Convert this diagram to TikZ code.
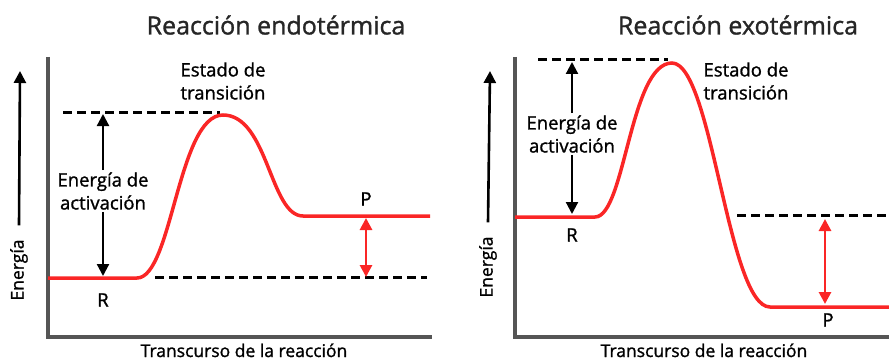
\documentclass[tikz,border=0pt]{standalone}
\usepackage{fontspec}
\setmainfont{Open Sans}[UprightFeatures={FakeBold=1.2}]
\usetikzlibrary{arrows.meta, positioning}
\definecolor{curvered}{RGB}{250,38,38}
\definecolor{axisgray}{RGB}{85,85,85}

\begin{document}
\begin{tikzpicture}[x=1pt, y=-1pt,
      axis/.style={line width=3.5pt, draw=axisgray},
      profile/.style={line width=3.5pt, draw=curvered},
      dashline/.style={line width=3pt, dash pattern=on 9pt off 5pt},
      blackarrow/.style={line width=2.2pt, -{Triangle[width=12pt,length=12pt]}},
      redarrow/.style={line width=2.8pt, draw=curvered, {Triangle[width=12pt,length=12pt]}-{Triangle[width=12pt,length=12pt]}},
      title/.style={font=\fontsize{25}{29}\selectfont, text=black!85},
      label/.style={font=\fontsize{18.5}{23}\selectfont, align=center, inner sep=2pt},
      axislabel/.style={font=\fontsize{17.5}{20}\selectfont, inner sep=2pt}]

      \useasboundingbox (0,0) rectangle (889,361);

      % Endothermic
      \node[title] (titleL) at (276,25) {Reacción endotérmica};
      \draw[axis] (48,57) -- (48,337) -- (432,337);
      \node[axislabel, rotate=90] (enL) at (19,270) {Energía};
      \node[axislabel, anchor=base] (xL) at (244,357) {Transcurso de la reacción};
      \draw[blackarrow, line width=2.6pt] (enL.east) ++(0,-12) -- (20,71);

      \draw[dashline] (63,112) -- (220,112);
      \draw[dashline] (155,277) -- (427,277);
      \draw[profile] (48,278) -- (137,278)
        .. controls (172,278) and (178,115) .. (223,115)
        .. controls (268,115) and (270,216) .. (303,216) -- (430,216);

      \node[label] (tsL) at (223,81) {Estado de\\transición};
      \node[label] (actL) at (103,191) {Energía de\\activación};
      \node[label] (rL) at (103,300) {R};
      \node[label] (pL) at (366,199) {P};
      \coordinate (topL) at (103,114);
      \coordinate (baseL) at (103,276);
      \draw[blackarrow] (actL.north) -- (topL);
      \draw[blackarrow] (actL.south) -- (baseL);
      \coordinate (prodL) at (366,218);
      \coordinate (reacL) at (366,277);
      \draw[redarrow] (prodL) -- (reacL);

      % Exothermic
      \node[title] (titleR) at (738,25) {Reacción exotérmica};
      \draw[axis] (515,57) -- (515,337) -- (889,337);
      \node[axislabel, rotate=90] (enR) at (488,267) {Energía};
      \node[axislabel, anchor=base] (xR) at (704,357) {Transcurso de la reacción};
      \draw[blackarrow, line width=2.6pt] (enR.east) ++(0,-12) -- (490,71);

      \draw[dashline] (538,60) -- (668,60);
      \draw[dashline] (737,215) -- (889,215);
      \draw[profile] (515,217) -- (595,217)
        .. controls (625,217) and (630,63) .. (672,63)
        .. controls (712,63) and (728,307) .. (770,307) -- (889,307);

      \node[label] (tsR) at (746,81) {Estado de\\transición};
      \node[label] (actR) at (572,134) {Energía de\\activación};
      \node[label] (rR) at (572,235) {R};
      \node[label] (pR) at (828,320) {P};
      \coordinate (topR) at (572,62);
      \coordinate (baseR) at (572,214);
      \draw[blackarrow] (actR.north) -- (topR);
      \draw[blackarrow] (actR.south) -- (baseR);
      \coordinate (reacR) at (825,219);
      \coordinate (prodR) at (825,304);
      \draw[redarrow] (reacR) -- (prodR);
\end{tikzpicture}
\end{document}
